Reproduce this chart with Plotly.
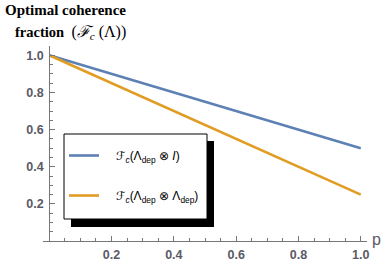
import plotly.graph_objects as go

# data
p_vals = [0.0, 1.0]
fc_dep_id = [1.0, 0.5]
fc_dep_dep = [1.0, 0.25]
tick_vals = [0.2, 0.4, 0.6, 0.8, 1.0]
tick_text = ["0.2", "0.4", "0.6", "0.8", "1.0"]
series_names = [
    "\u2002\u2002ℱ<sub><i>c</i></sub>(Λ<sub>dep</sub> ⊗ <i>I</i>)",
    "\u2002\u2002ℱ<sub><i>c</i></sub>(Λ<sub>dep</sub> ⊗ Λ<sub>dep</sub>)",
]
colors = ["#5E81B5", "#E19C24"]

W, H = 384, 261
ML, MR, MT, MB = 43, 17, 46, 20
PW, PH = W - ML - MR, H - MT - MB


def px_x(x):
    return (x - ML) / PW


def px_y(y):
    return (H - MB - y) / PH


fig = go.Figure()
for i, ys in enumerate([fc_dep_id, fc_dep_dep]):
    fig.add_trace(go.Scatter(
        x=p_vals, y=ys, mode="lines", name=series_names[i],
        line=dict(color=colors[i], width=2.6),
        legendgroup=f"g{i}",
    ))

axis_col = "#777777"
lab_font = dict(family="Liberation Sans, Arial", size=12.5, color="#5a5a66", weight="bold")

fig.update_layout(
    width=W, height=H,
    margin=dict(l=ML, r=MR, t=MT, b=MB, pad=0, autoexpand=False),
    paper_bgcolor="white", plot_bgcolor="white",
    showlegend=True,
    legend=dict(
        x=px_x(64), y=px_y(141), xanchor="left", yanchor="top",
        bgcolor="rgba(0,0,0,0)", borderwidth=0,
        font=dict(family="Liberation Sans, DejaVu Sans", size=12, color="black"),
        tracegroupgap=21,
    ),
    xaxis=dict(
        range=[-0.02, 1.02], showgrid=False, zeroline=False, automargin=False,
        showline=True, linecolor=axis_col, linewidth=1,
        ticks="inside", ticklen=5, tickcolor=axis_col, tickwidth=1,
        tickvals=tick_vals, ticktext=tick_text, tickfont=lab_font,
        ticklabelstandoff=2,
        minor=dict(dtick=0.05, tick0=0, ticks="inside", ticklen=3, tickcolor=axis_col, tickwidth=1),
    ),
    yaxis=dict(
        range=[0, 1.05], showgrid=False, zeroline=False, automargin=False,
        anchor="free", position=0.02 / 1.04,
        showline=True, linecolor=axis_col, linewidth=1,
        ticks="inside", ticklen=5, tickcolor=axis_col, tickwidth=1,
        tickvals=tick_vals, ticktext=tick_text, tickfont=lab_font,
        ticklabelstandoff=3,
        minor=dict(dtick=0.05, tick0=0, ticks="inside", ticklen=3, tickcolor=axis_col, tickwidth=1),
    ),
    shapes=[
        dict(type="rect", xref="paper", yref="paper",
             x0=px_x(71), x1=px_x(214), y0=px_y(227), y1=px_y(141),
             fillcolor="black", line=dict(width=0), layer="above"),
        dict(type="rect", xref="paper", yref="paper",
             x0=px_x(64), x1=px_x(207), y0=px_y(219), y1=px_y(134),
             fillcolor="white", line=dict(color="black", width=1), layer="above"),
    ],
    annotations=[
        dict(text="<b>Optimal coherence</b>", xref="paper", yref="paper",
             x=px_x(3), y=px_y(10), xanchor="left", yanchor="middle", showarrow=False,
             font=dict(family="Liberation Serif, Times New Roman", size=15, color="black")),
        dict(text="<b>fraction</b>  <span style='font-size:16px'>(<i>ℱ<sub>c</sub></i> (Λ))</span>",
             xref="paper", yref="paper",
             x=px_x(13), y=px_y(32), xanchor="left", yanchor="middle", showarrow=False,
             font=dict(family="Liberation Serif, Times New Roman", size=14.5, color="black")),
        dict(text="p", xref="paper", yref="paper",
             x=px_x(370), y=px_y(239), xanchor="left", yanchor="middle", showarrow=False,
             font=dict(family="Liberation Sans, Arial", size=16, color="#5a5a66")),
    ],
)

fig.write_html(
    "out.html",
    config={"displayModeBar": False},
    post_script="document.body.style.margin='0';document.body.style.overflow='hidden';",
)
